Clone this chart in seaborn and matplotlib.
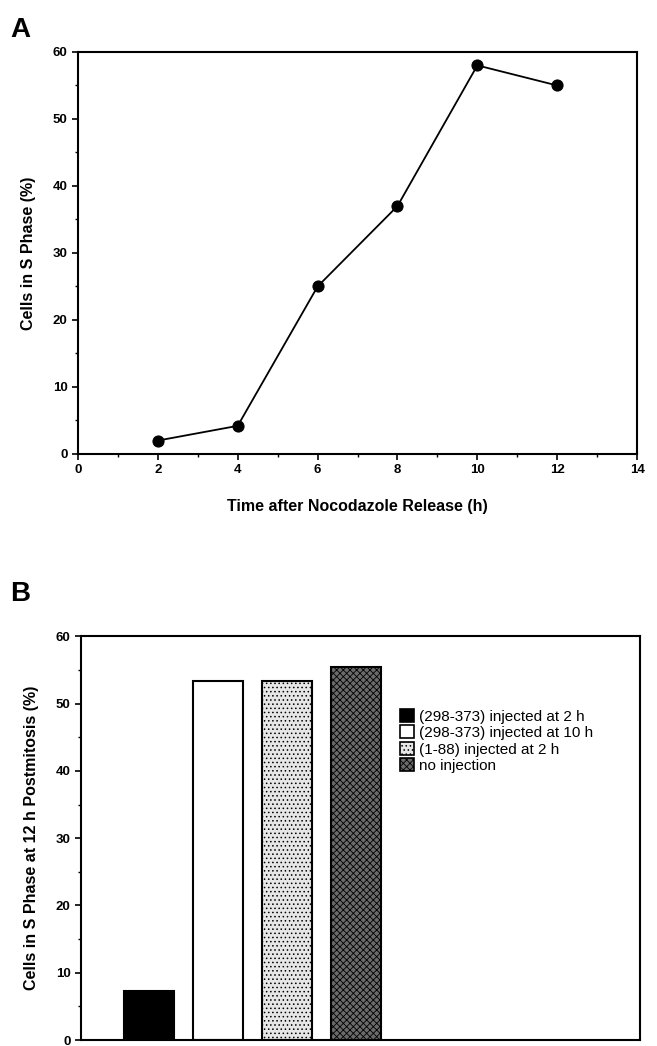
import matplotlib
matplotlib.use("Agg")
import matplotlib.pyplot as plt
import seaborn as sns
import pandas as pd
from matplotlib.patches import Patch
from matplotlib.ticker import MultipleLocator

# Panel A data: time course after nocodazole release
hours = [2, 4, 6, 8, 10, 12]
s_phase_pct = [2.0, 4.2, 25.0, 37.0, 58.0, 55.0]

# Panel B data: injection conditions
conditions = ["(298-373) injected at 2 h", "(298-373) injected at 10 h",
              "(1-88) injected at 2 h", "no injection"]
s_phase_12h = [7.3, 53.3, 53.3, 55.5]
bar_colors = ["black", "white", "#e6e6e6", "#6a6a6a"]
bar_hatches = ["", "", "....", "xxxxx"]

sns.set_style("ticks")
plt.rcParams['font.family'] = ['Liberation Sans', 'DejaVu Sans']
plt.rcParams['hatch.linewidth'] = 0.6
for key in ("text.color", "axes.labelcolor", "xtick.color", "ytick.color", "axes.edgecolor"):
    plt.rcParams[key] = "black"

fig = plt.figure(figsize=(6.57, 10.46), dpi=100)

# ---- Panel A ----
ax1 = fig.add_axes([0.1187, 0.566, 0.851, 0.3843])
df_a = pd.DataFrame({"time": hours, "pct": s_phase_pct})
sns.lineplot(data=df_a, x="time", y="pct", ax=ax1, color="black", lw=1.3,
             marker="o", markersize=8, markeredgecolor="black")
ax1.set_xlim(0, 14)
ax1.set_ylim(0, 60)
ax1.xaxis.set_major_locator(MultipleLocator(2))
ax1.xaxis.set_minor_locator(MultipleLocator(1))
ax1.yaxis.set_major_locator(MultipleLocator(10))
ax1.yaxis.set_minor_locator(MultipleLocator(5))
ax1.set_xlabel("Time after Nocodazole Release (h)", fontsize=11.5, fontweight="bold", labelpad=16)
ax1.set_ylabel("Cells in S Phase (%)", fontsize=11.5, fontweight="bold", labelpad=12)
fig.text(0.015, 0.965, "A", fontsize=20, fontweight="bold")

# ---- Panel B ----
ax2 = fig.add_axes([0.1233, 0.0057, 0.851, 0.386])
sns.barplot(x=conditions, y=s_phase_12h, hue=conditions, palette=bar_colors,
            legend=False, ax=ax2, width=0.72, edgecolor="black", linewidth=1.5)
for patch, h in zip(ax2.patches, bar_hatches):
    patch.set_hatch(h)
ax2.set_xlim(-0.98, 7.1)
ax2.set_ylim(0, 60)
ax2.set_xticks([])
ax2.yaxis.set_major_locator(MultipleLocator(10))
ax2.yaxis.set_minor_locator(MultipleLocator(5))
ax2.set_ylabel("Cells in S Phase at 12 h Postmitosis (%)", fontsize=11.5, fontweight="bold", labelpad=12)
fig.text(0.015, 0.425, "B", fontsize=20, fontweight="bold")

handles = [Patch(facecolor=c, edgecolor="black", hatch=h, linewidth=1.2)
           for c, h in zip(bar_colors, bar_hatches)]
ax2.legend(handles=handles, labels=conditions, loc="upper left",
           bbox_to_anchor=(0.56, 0.835), frameon=False, fontsize=11,
           handlelength=0.9, handleheight=0.9, handletextpad=0.3,
           labelspacing=0.12, borderaxespad=0)

for ax in (ax1, ax2):
    for sp in ax.spines.values():
        sp.set_visible(True)
        sp.set_linewidth(1.5)
    ax.tick_params(axis="both", which="major", direction="out", length=4, width=1.2,
                   labelsize=9.5)
    ax.tick_params(axis="both", which="minor", direction="out", length=2.5, width=1)
    for lab in ax.get_xticklabels() + ax.get_yticklabels():
        lab.set_fontweight("bold")

fig.savefig("out.png", dpi=100)
